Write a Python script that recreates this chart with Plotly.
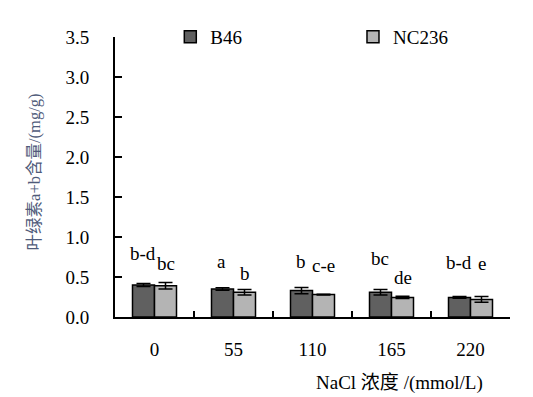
import plotly.graph_objects as go

categories = ["0", "55", "110", "165", "220"]
b46 = [0.40, 0.35, 0.33, 0.31, 0.245]
b46_err = [0.02, 0.015, 0.04, 0.035, 0.01]
nc236 = [0.39, 0.31, 0.28, 0.245, 0.22]
nc236_err = [0.04, 0.035, 0.005, 0.015, 0.035]
b46_letters = ["b-d", "a", "b", "bc", "b-d"]
nc236_letters = ["bc", "b", "c-e", "de", "e"]
b46_label_y = [0.80, 0.69, 0.69, 0.73, 0.68]
nc236_label_y = [0.665, 0.55, 0.65, 0.49, 0.665]

SERIF = "Liberation Serif"
CJK = "Noto Sans CJK SC"
FS = 19

fig = go.Figure()
fig.add_trace(go.Bar(
    x=categories, y=b46, name="B46", legend="legend",
    marker=dict(color="#606060", line=dict(color="black", width=1.5)),
    error_y=dict(type="data", array=b46_err, color="black", thickness=1.5, width=7),
))
fig.add_trace(go.Bar(
    x=categories, y=nc236, name="NC236", legend="legend2",
    marker=dict(color="#b4b4b4", line=dict(color="black", width=1.5)),
    error_y=dict(type="data", array=nc236_err, color="black", thickness=1.5, width=7),
))

annotations = []
for i, (t, yy) in enumerate(zip(b46_letters, b46_label_y)):
    annotations.append(dict(x=i, y=yy, text=t, xshift=-12, showarrow=False,
                            font=dict(family=SERIF, size=FS, color="black")))
for i, (t, yy) in enumerate(zip(nc236_letters, nc236_label_y)):
    annotations.append(dict(x=i, y=yy, text=t, xshift=11, showarrow=False,
                            font=dict(family=SERIF, size=FS, color="black")))

annotations.append(dict(
    xref="paper", yref="paper", x=-0.2076, y=0.52, xanchor="center", yanchor="middle",
    textangle=-90, showarrow=False,
    text=f"<span style='font-family:{CJK}'>叶绿素</span>a+b<span style='font-family:{CJK}'>含量</span>/(mg/g)",
    font=dict(family=SERIF, size=16.5, color="#4f5b7a"),
))
annotations.append(dict(
    xref="paper", yref="paper", x=0.72, y=-0.225, xanchor="center", yanchor="middle",
    showarrow=False,
    text=f"NaCl <span style='font-family:{CJK}'>浓度</span> /(mmol/L)",
    font=dict(family=SERIF, size=FS, color="black"),
))

leg_common = dict(orientation="h", yanchor="middle", xanchor="left",
                  bgcolor="rgba(0,0,0,0)",
                  font=dict(family=SERIF, size=FS, color="black"))

fig.update_layout(
    width=525, height=389,
    margin=dict(l=107, r=23, t=29, b=80, autoexpand=False),
    paper_bgcolor="white", plot_bgcolor="white",
    barmode="group", bargap=0.443, bargroupgap=0,
    font=dict(family=SERIF, size=FS, color="black"),
    showlegend=True,
    legend=dict(x=0.14, y=1.0, **leg_common),
    legend2=dict(x=0.6025, y=1.0, **leg_common),
    annotations=annotations,
    xaxis=dict(
        type="category", range=[-0.5, 4.5], showline=True, linecolor="black", linewidth=2,
        ticks="inside", tickson="boundaries", ticklen=6, tickwidth=1.5, tickcolor="black",
        ticklabelstandoff=14, showgrid=False, zeroline=False,
        tickfont=dict(family=SERIF, size=FS, color="black"),
    ),
    yaxis=dict(
        range=[0, 3.5], dtick=0.5, tickformat=".1f",
        showline=True, linecolor="black", linewidth=2,
        ticks="inside", ticklen=7, tickwidth=1.5, tickcolor="black",
        ticklabelstandoff=20, showgrid=False, zeroline=False,
        tickfont=dict(family=SERIF, size=FS, color="black"),
    ),
)

fig.write_html("out.html")
